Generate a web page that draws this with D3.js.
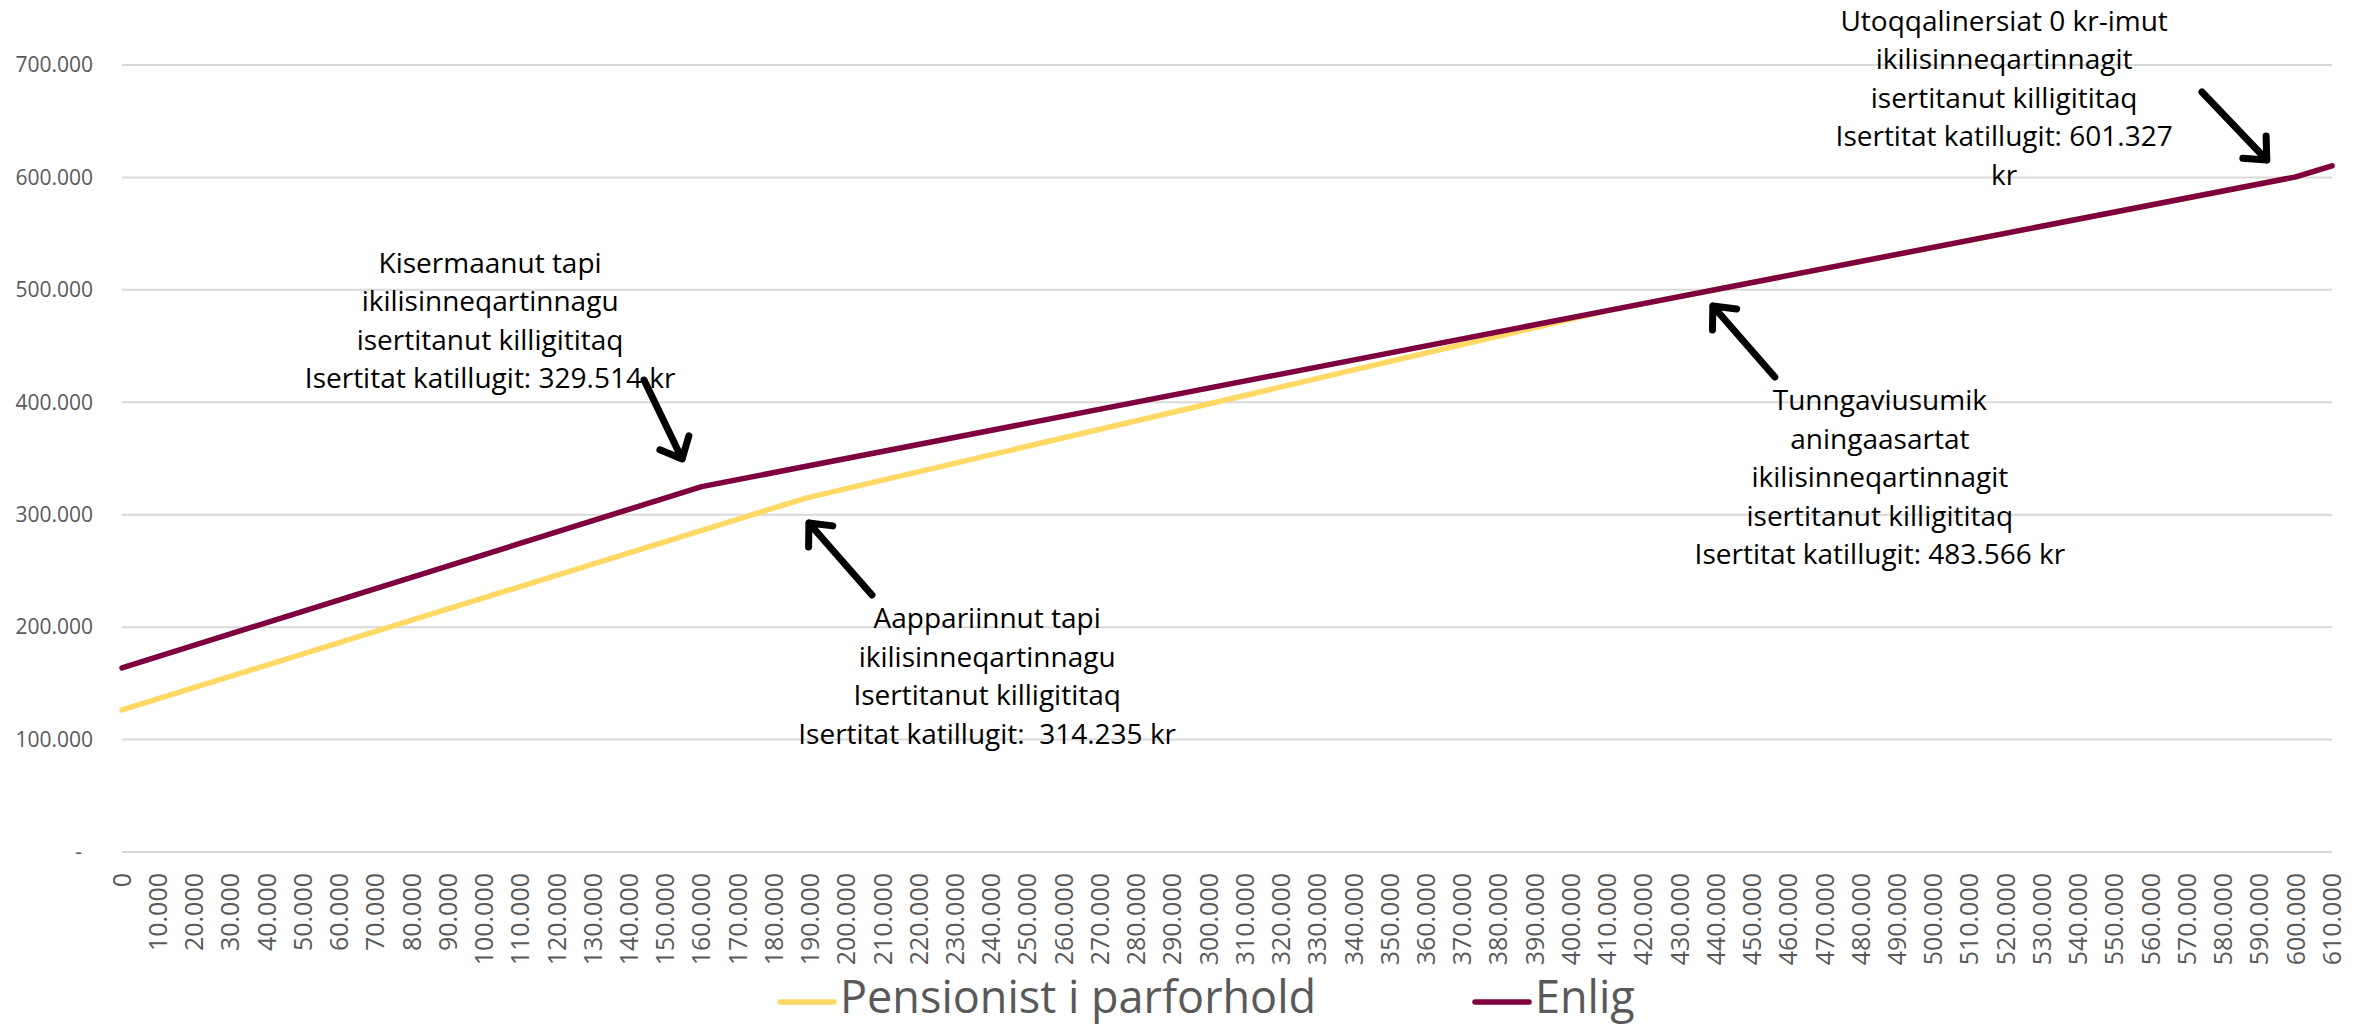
<!DOCTYPE html>
<html>
<head>
<meta charset="utf-8">
<script src="https://cdn.jsdelivr.net/npm/d3@7"></script>
<style>
    body { margin: 0; background: #fff; }
    svg { display: block; }
    .tick-label { font-family: "Open Sans", sans-serif; fill: #595959; }
    .note { font-family: "Open Sans", sans-serif; font-size: 28px; fill: #000; }
    .legend text { font-family: "Open Sans", sans-serif; font-size: 45px; fill: #595959; }
</style>
</head>
<body>
<svg id="chart" width="2372" height="1027"></svg>
<script>
/* Income on the x axis, one category every 10.000 kr */
let incomeTicks = d3.range(0, 610001, 10000);
let valueTicks = [0, 100000, 200000, 300000, 400000, 500000, 600000, 700000];

/* Break points of each line (income, total) */
let parIncome = [0, 189000, 410000, 600000, 610000];
let parTotal = [126400, 315000, 481500, 600500, 610300];
let enligIncome = [0, 160000, 410000, 600000, 610000];
let enligTotal = [163800, 325000, 481500, 600500, 610300];

let seriesNames = ['Pensionist i parforhold', 'Enlig'];
let seriesColors = ['#ffd966', '#7f003f'];

/* Notes and their arrows, in data units */
let notes = [
    {
        lines: ['Kisermaanut tapi', 'ikilisinneqartinnagu', 'isertitanut killigititaq', 'Isertitat katillugit: 329.514 kr'],
        at: [101600, 515000],
        arrow: [[144100, 419800], [154600, 349600]]
    },
    {
        lines: ['Aappariinnut tapi', 'ikilisinneqartinnagu', 'Isertitanut killigititaq', 'Isertitat katillugit:  314.235 kr'],
        at: [238800, 199200],
        arrow: [[207000, 228600], [189600, 292600]]
    },
    {
        lines: ['Tunngaviusumik', 'aningaasartat', 'ikilisinneqartinnagit', 'isertitanut killigititaq', 'Isertitat katillugit: 483.566 kr'],
        at: [485200, 393100],
        arrow: [[456200, 422500], [439100, 485600]]
    },
    {
        lines: ['Utoqqalinersiat 0 kr-imut', 'ikilisinneqartinnagit', 'isertitanut killigititaq', 'Isertitat katillugit: 601.327', 'kr'],
        at: [519500, 730500],
        arrow: [[574100, 676000], [592000, 615500]]
    }
];

let svg = d3.select('#chart');

let x = d3.scaleLinear().domain([0, 610000]).range([122, 2332]);
let y = d3.scaleLinear().domain([0, 700000]).range([852, 65]);

/* Danish style numbers: 100.000 */
let fmt = d3.formatLocale({ decimal: ',', thousands: '.', grouping: [3], currency: ['', ' kr'] }).format(',d');

/* Horizontal gridlines */
svg.append('g')
    .selectAll('line')
    .data(valueTicks)
    .enter()
    .append('line')
    .attr('x1', x(0))
    .attr('x2', x(610000))
    .attr('y1', d => y(d))
    .attr('y2', d => y(d))
    .attr('stroke', '#d9d9d9')
    .attr('stroke-width', 2);

/* Value labels, zero is shown as a dash */
svg.append('g')
    .selectAll('text')
    .data(valueTicks)
    .enter()
    .append('text')
    .attr('class', 'tick-label')
    .attr('x', d => d === 0 ? 82 : 93)
    .attr('y', d => y(d))
    .attr('dy', '0.35em')
    .attr('text-anchor', 'end')
    .style('font-size', '21px')
    .text(d => d === 0 ? '-' : fmt(d));

/* Income labels, turned upright */
svg.append('g')
    .selectAll('text')
    .data(incomeTicks)
    .enter()
    .append('text')
    .attr('class', 'tick-label')
    .attr('transform', d => `translate(${x(d)},873) rotate(-90)`)
    .attr('dy', '0.35em')
    .attr('text-anchor', 'end')
    .style('font-size', '25px')
    .text(d => fmt(d));

/* The two lines */
let line = d3.line()
    .x(d => x(d[0]))
    .y(d => y(d[1]));

let series = [
    d3.zip(parIncome, parTotal),
    d3.zip(enligIncome, enligTotal)
];

svg.append('g')
    .selectAll('path')
    .data(series)
    .enter()
    .append('path')
    .attr('d', line)
    .attr('fill', 'none')
    .attr('stroke', (d, i) => seriesColors[i])
    .attr('stroke-width', 5.5)
    .attr('stroke-linecap', 'round')
    .attr('stroke-linejoin', 'round');

/* Notes */
notes.forEach(n => {
    let t = svg.append('text')
        .attr('class', 'note')
        .attr('text-anchor', 'middle')
        .attr('x', x(n.at[0]))
        .attr('y', y(n.at[1]));
    n.lines.forEach((l, i) => {
        t.append('tspan')
            .attr('x', x(n.at[0]))
            .attr('dy', i === 0 ? 0 : 38.5)
            .style('white-space', 'pre')
            .text(l);
    });

    /* Arrow with an open head */
    let x1 = x(n.arrow[0][0]), y1 = y(n.arrow[0][1]);
    let x2 = x(n.arrow[1][0]), y2 = y(n.arrow[1][1]);
    let a = Math.atan2(y1 - y2, x1 - x2);
    let w = 42 * Math.PI / 180, len = 24;
    let path = d3.path();
    path.moveTo(x1, y1);
    path.lineTo(x2, y2);
    path.moveTo(x2 + len * Math.cos(a - w), y2 + len * Math.sin(a - w));
    path.lineTo(x2, y2);
    path.lineTo(x2 + len * Math.cos(a + w), y2 + len * Math.sin(a + w));
    svg.append('path')
        .attr('d', path.toString())
        .attr('fill', 'none')
        .attr('stroke', '#000')
        .attr('stroke-width', 7)
        .attr('stroke-linecap', 'round')
        .attr('stroke-linejoin', 'round');
});

/* Legend */
let legendX = [780, 1475];
let legend = svg.append('g')
    .attr('class', 'legend')
    .selectAll('g')
    .data(seriesNames)
    .enter()
    .append('g')
    .attr('transform', (d, i) => `translate(${legendX[i]},1002)`);

legend.append('line')
    .attr('x1', 0)
    .attr('x2', 54)
    .attr('stroke', (d, i) => seriesColors[i])
    .attr('stroke-width', 5.5)
    .attr('stroke-linecap', 'round');

legend.append('text')
    .attr('x', 60)
    .attr('y', 11)
    .text(d => d);
</script>
</body>
</html>
